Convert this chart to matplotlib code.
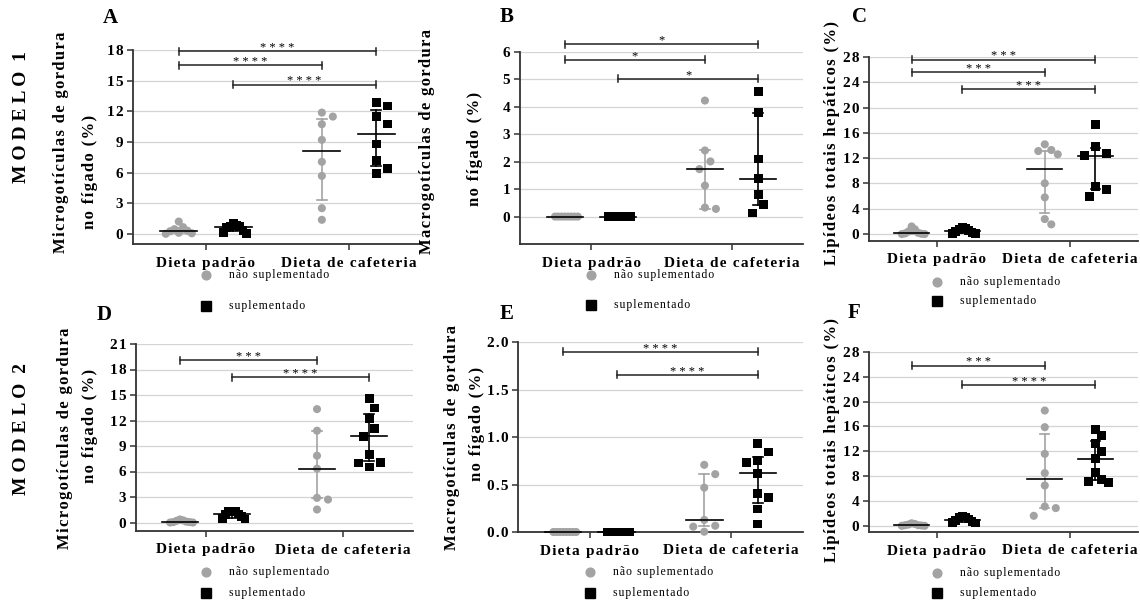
import numpy as np
import matplotlib
matplotlib.use('Agg')
import matplotlib.pyplot as plt
from matplotlib.transforms import offset_copy

plt.rcParams['font.family'] = ['Liberation Serif', 'DejaVu Serif']

CINZA = '#a3a3a3'
PRETO = '#000000'

categorias = ['Dieta padrão', 'Dieta de cafeteria']
legenda = ['não suplementado', 'suplementado']

# --- Modelo 1: microgotículas (A) ---
micro1_pad_nao = [1.2, 0.65, 0.45, 0.3, 0.25, 0.1, 0.05, 0.0]
micro1_pad_sup = [1.0, 0.85, 0.75, 0.7, 0.6, 0.35, 0.15, 0.05]
micro1_caf_nao = [11.87, 11.48, 10.73, 9.2, 7.05, 5.67, 2.51, 1.37]
micro1_caf_sup = [12.85, 12.52, 11.48, 10.76, 8.8, 7.17, 6.39, 5.87]
micro1_resumo = [(0.27, 0.07, 0.6), (0.65, 0.3, 0.82), (8.1, 3.33, 11.25), (9.78, 6.65, 12.13)]
micro1_sig = ['****', '****', '****']

# --- Modelo 1: macrogotículas (B) ---
macro1_pad_nao = [0, 0, 0, 0, 0, 0, 0, 0]
macro1_pad_sup = [0, 0, 0, 0, 0, 0, 0, 0]
macro1_caf_nao = [4.23, 2.41, 2.01, 1.73, 1.13, 0.33, 0.28]
macro1_caf_sup = [4.56, 3.79, 2.1, 1.38, 0.8, 0.45, 0.13]
macro1_resumo = [(0, 0, 0), (0, 0, 0), (1.73, 0.28, 2.41), (1.38, 0.44, 3.79)]
macro1_sig = ['*', '*', '*']

# --- Modelo 1: lipídeos totais (C) ---
lip1_pad_nao = [1.2, 0.75, 0.4, 0.2, 0.1, 0.05, 0.0, 0.0]
lip1_pad_sup = [1.0, 0.85, 0.7, 0.55, 0.4, 0.2, 0.1, 0.05]
lip1_caf_nao = [14.19, 13.29, 13.13, 12.61, 8.02, 5.8, 2.37, 1.53]
lip1_caf_sup = [17.35, 13.82, 12.76, 12.39, 7.49, 7.07, 5.9]
lip1_resumo = [(0.15, 0.02, 0.5), (0.47, 0.12, 0.8), (10.3, 3.27, 13.18), (12.39, 7.07, 13.66)]
lip1_sig = ['***', '***', '***']

# --- Modelo 2: microgotículas (D) ---
micro2_pad_nao = [0.35, 0.25, 0.2, 0.1, 0.05, 0.05, 0.0, 0.0]
micro2_pad_sup = [1.35, 1.3, 1.25, 1.0, 0.9, 0.7, 0.5, 0.4]
micro2_caf_nao = [13.34, 10.8, 7.86, 6.34, 2.9, 2.7, 1.53]
micro2_caf_sup = [14.63, 13.46, 12.2, 11.03, 10.13, 7.98, 7.08, 7.0, 6.54]
micro2_resumo = [(0.07, 0.0, 0.22), (0.95, 0.55, 1.2), (6.34, 2.9, 10.8), (10.13, 7.27, 12.8)]
micro2_sig = ['***', '****']

# --- Modelo 2: macrogotículas (E) ---
macro2_pad_nao = [0, 0, 0, 0, 0, 0, 0, 0]
macro2_pad_sup = [0, 0, 0, 0, 0, 0, 0, 0]
macro2_caf_nao = [0.707, 0.609, 0.467, 0.127, 0.066, 0.056, 0.003]
macro2_caf_sup = [0.928, 0.841, 0.752, 0.731, 0.619, 0.408, 0.362, 0.243, 0.084]
macro2_resumo = [(0, 0, 0), (0, 0, 0), (0.127, 0.063, 0.609), (0.619, 0.303, 0.788)]
macro2_sig = ['****', '****']

# --- Modelo 2: lipídeos totais (F) ---
lip2_pad_nao = [0.4, 0.3, 0.2, 0.1, 0.1, 0.05, 0.0, 0.0]
lip2_pad_sup = [1.45, 1.4, 1.3, 1.1, 0.9, 0.7, 0.55, 0.45]
lip2_caf_nao = [18.57, 15.89, 11.59, 8.49, 6.49, 3.11, 2.85, 1.61]
lip2_caf_sup = [15.57, 14.49, 13.31, 11.96, 10.79, 8.58, 7.52, 7.13, 6.97]
lip2_resumo = [(0.1, 0.02, 0.25), (0.97, 0.6, 1.35), (7.49, 2.85, 14.81), (10.79, 7.3, 13.74)]
lip2_sig = ['***', '****']

DESLOC = 0.19
POS_GRUPO = [-DESLOC, DESLOC, 1 - DESLOC, 1 + DESLOC]


def espacado(txt):
    # espaçamento entre letras imitando o estilo do Prism
    return '\u200a'.join(txt)


def enxame(ax, x0, valores, diam=11.0, meia_larg=13.0):
    """Distribui os pontos lateralmente para não se sobreporem (em pixels)."""
    py = ax.transData.transform([[0, v] for v in valores])[:, 1]
    ux = ax.transData.transform([[1, 0]])[0, 0] - ax.transData.transform([[0, 0]])[0, 0]
    passo = diam / 2
    colocados = []
    desl = np.zeros(len(valores))
    for i, y in enumerate(py):
        k = 0
        escolha = None
        while escolha is None:
            cands = [0.0] if k == 0 else [k * passo, -k * passo]
            for c in cands:
                if all((c - dx) ** 2 + (y - yy) ** 2 >= diam ** 2 for dx, yy in colocados):
                    escolha = c
                    break
            k += 1
        colocados.append((escolha, y))
        desl[i] = escolha
    m = np.abs(desl).max()
    if m > meia_larg:
        desl *= meia_larg / m
    return x0 + desl / ux


def painel(fig, ret_px, ylim, yticks, fmt, grupos, resumo, sig, barras, leg_dy):
    l, r, t, b = ret_px
    ax = fig.add_axes([l / 1140, 1 - b / 600, (r - l) / 1140, (b - t) / 600])
    ax.set_xlim(-0.51, 1.51)
    ax.set_ylim(*ylim)
    for s in ['top', 'right']:
        ax.spines[s].set_visible(False)
    for s in ['left', 'bottom']:
        ax.spines[s].set_color('#333333')
        ax.spines[s].set_linewidth(1.3)
    ax.set_yticks(yticks)
    ax.set_yticklabels([espacado(fmt.format(v)) for v in yticks], fontsize=11, fontweight='bold')
    ax.set_xticks([0, 1])
    ax.set_xticklabels([espacado(c) for c in categorias], fontsize=11, fontweight='bold')
    ax.tick_params(axis='both', direction='out', length=4, width=1.1, color='#333333')
    ax.tick_params(axis='x', pad=5)
    ax.tick_params(axis='y', pad=3)
    ax.yaxis.grid(True, color='#d4d4d4', lw=0.9)
    ax.set_axisbelow(True)

    py0 = ax.transData.transform([[0, 0]])[0, 1]
    uy = ax.transData.transform([[0, 1]])[0, 1] - py0

    for g, (vals, (med, q1, q3)) in enumerate(zip(grupos, resumo)):
        x0 = POS_GRUPO[g]
        cor = CINZA if g % 2 == 0 else PRETO
        mk = 'o' if g % 2 == 0 else 's'
        xs = enxame(ax, x0, vals)
        ax.scatter(xs, vals, s=34 if mk == 'o' else 40, marker=mk, color=cor,
                   edgecolors='none', zorder=3, clip_on=False)
        if q3 > q1:
            ax.plot([x0, x0], [q1, q3], color=cor, lw=1.2, zorder=4)
            for q in (q1, q3):
                ax.plot([x0 - 0.035, x0 + 0.035], [q, q], color=cor, lw=1.2, zorder=4)
        ax.plot([x0 - 0.13, x0 + 0.13], [med, med], color=PRETO, lw=1.2, zorder=5, clip_on=False)

    # barras de significância
    cap = 3.5 / uy
    for (i, j, y), estrelas in zip(barras, sig):
        xa, xb = POS_GRUPO[i], POS_GRUPO[j]
        ax.plot([xa, xb], [y, y], color='#222222', lw=1.1, clip_on=False, zorder=6)
        for xx in (xa, xb):
            ax.plot([xx, xx], [y - cap, y + cap], color='#222222', lw=1.1, clip_on=False, zorder=6)
        ax.annotate(' '.join(estrelas), ((xa + xb) / 2, y), xytext=(0, -2),
                    textcoords='offset points', ha='center', va='bottom',
                    fontsize=9, annotation_clip=False)

    # legenda abaixo do eixo
    base = ax.get_xaxis_transform()
    for k, (dy, mk, cor) in enumerate(zip(leg_dy, ['o', 's'], [CINZA, PRETO])):
        tr = offset_copy(base, fig=fig, x=0, y=-dy, units='dots')
        ax.plot([0], [0], marker=mk, ms=6.3 if mk == 'o' else 6.8, color=cor, ls='none',
                transform=tr, clip_on=False)
        tr_txt = offset_copy(base, fig=fig, x=23, y=-dy, units='dots')
        ax.text(0, 0, espacado(legenda[k]), transform=tr_txt, ha='left', va='center',
                fontsize=8.5)
    return ax


fig = plt.figure(figsize=(11.4, 6), dpi=100)

painel(fig, (133, 422, 50, 244), (-1, 18), [0, 3, 6, 9, 12, 15, 18], '{:d}',
       [micro1_pad_nao, micro1_pad_sup, micro1_caf_nao, micro1_caf_sup], micro1_resumo,
       micro1_sig, [(0, 3, 17.9), (0, 2, 16.5), (1, 3, 14.6)], (31, 62))
painel(fig, (520, 803, 52, 244), (-1, 6), [0, 1, 2, 3, 4, 5, 6], '{:d}',
       [macro1_pad_nao, macro1_pad_sup, macro1_caf_nao, macro1_caf_sup], macro1_resumo,
       macro1_sig, [(0, 3, 6.29), (0, 2, 5.71), (1, 3, 5.02)], (31, 61))
painel(fig, (869, 1138, 57, 241), (-1.1, 28), [0, 4, 8, 12, 16, 20, 24, 28], '{:d}',
       [lip1_pad_nao, lip1_pad_sup, lip1_caf_nao, lip1_caf_sup], lip1_resumo,
       lip1_sig, [(0, 3, 27.6), (0, 2, 25.6), (1, 3, 22.9)], (41, 60))
painel(fig, (136, 413, 344, 531), (-1, 21), [0, 3, 6, 9, 12, 15, 18, 21], '{:d}',
       [micro2_pad_nao, micro2_pad_sup, micro2_caf_nao, micro2_caf_sup], micro2_resumo,
       micro2_sig, [(0, 2, 19.1), (1, 3, 17.1)], (41, 62))
painel(fig, (518, 803, 342, 532), (0, 2), [0, 0.5, 1.0, 1.5, 2.0], '{:.1f}',
       [macro2_pad_nao, macro2_pad_sup, macro2_caf_nao, macro2_caf_sup], macro2_resumo,
       macro2_sig, [(0, 3, 1.896), (1, 3, 1.653)], (40, 61))
painel(fig, (869, 1138, 352, 532), (-1, 28), [0, 4, 8, 12, 16, 20, 24, 28], '{:d}',
       [lip2_pad_nao, lip2_pad_sup, lip2_caf_nao, lip2_caf_sup], lip2_resumo,
       lip2_sig, [(0, 2, 25.8), (1, 3, 22.7)], (41, 61))


def ftxt(x, y, s, **kw):
    fig.text(x / 1140, 1 - y / 600, s, **kw)


# letras dos painéis
for letra, x, y in [('A', 103, 23), ('B', 500, 22), ('C', 852, 22),
                    ('D', 97, 320), ('E', 500, 319), ('F', 848, 318)]:
    ftxt(x, y, letra, fontsize=15, fontweight='bold', ha='left', va='baseline')

# modelos
for nome, y in [('M O D E L O  1', 117), ('M O D E L O  2', 429)]:
    ftxt(22, y, nome, fontsize=14, fontweight='bold', rotation=90, ha='center', va='center')

# rótulos dos eixos y
rot = dict(fontsize=12, fontweight='bold', rotation=90, ha='center', va='center')
ftxt(61, 142, espacado('Microgotículas de gordura'), **rot)
ftxt(90, 172, espacado('no fígado (%)'), **rot)
ftxt(427, 142, espacado('Macrogotículas de gordura'), **rot)
ftxt(475, 149, espacado('no fígado (%)'), **rot)
ftxt(832, 143, espacado('Lipídeos totais hepáticos (%)'), **rot)
ftxt(65, 438, espacado('Microgotículas de gordura'), **rot)
ftxt(90, 426, espacado('no fígado (%)'), **rot)
ftxt(452, 437, espacado('Macrogotículas de gordura'), **rot)
ftxt(477, 424, espacado('no fígado (%)'), **rot)
ftxt(832, 440, espacado('Lipídeos totais hepáticos (%)'), **rot)

fig.savefig('out.png', dpi=100)
